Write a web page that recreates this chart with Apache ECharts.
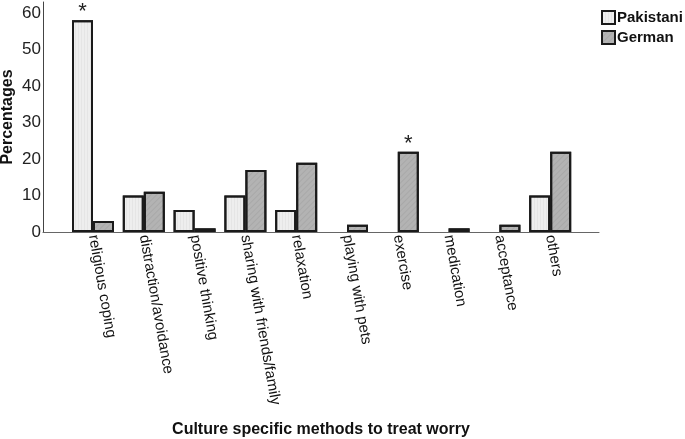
<!DOCTYPE html>
<html>
<head>
<meta charset="utf-8">
<script src="https://cdn.jsdelivr.net/npm/echarts@6/dist/echarts.min.js"></script>
<style>
html,body{margin:0;padding:0;background:#fff;}
#chart{width:685px;height:439px;}
</style>
</head>
<body>
<div id="chart"></div>
<script>
const categories = ['religious coping','distraction/avoidance','positive thinking','sharing with friends/family','relaxation','playing with pets','exercise','medication','acceptance','others'];
const pakistani = [58, 10, 6, 10, 6, 0, 0, 0, 0, 10];
const german = [3, 11, 1, 17, 19, 2, 22, 1, 2, 22];
const pakistaniSig = [true, false, false, false, false, false, false, false, false, false];
const germanSig = [false, false, false, false, false, false, true, false, false, false];
const yTicks = [0, 10, 20, 30, 40, 50, 60];
const yTitle = 'Percentages';
const xTitle = 'Culture specific methods to treat worry';

const FONT = 'Liberation Sans, Arial, sans-serif';
function mkData(vals, sig) {
  return vals.map((v, i) => {
    const item = {value: v};
    if (sig[i]) item.label = {show: true, formatter: '*'};
    if (v === 0) item.itemStyle = {borderWidth: 0};
    return item;
  });
}
const chart = echarts.init(document.getElementById('chart'));
const starLabel = {show: false, position: 'top', distance: -3, color: '#222', fontSize: 22, fontFamily: FONT};
chart.setOption({
  animation: false,
  backgroundColor: '#fff',
  textStyle: {fontFamily: FONT},
  grid: [
    {left: 43, right: 86, top: 2, bottom: 207, outerBoundsMode: 'none', containLabel: false},
    {left: 67.6, right: 109.4, top: 2, bottom: 207, outerBoundsMode: 'none', containLabel: false}
  ],
  graphic: [
    {type: 'text', x: 8, y: 117, rotation: Math.PI / 2,
     style: {text: yTitle, font: 'bold 16px ' + FONT, fill: '#111', align: 'center', verticalAlign: 'middle'}}
  ],
  legend: {
    orient: 'vertical', left: 601, top: 10, padding: 0, itemWidth: 13, itemHeight: 13, itemGap: 5,
    icon: 'rect',
    textStyle: {fontFamily: FONT, fontWeight: 'bold', fontSize: 15, color: '#111', padding: [0, 0, 0, -3]},
    data: [
      {name: 'Pakistani', itemStyle: {color: '#eeeeee', borderColor: '#1a1a1a', borderWidth: 2}},
      {name: 'German', itemStyle: {color: '#b3b3b3', borderColor: '#1a1a1a', borderWidth: 2}}
    ]
  },
  xAxis: [
    {type: 'value', gridIndex: 0, min: 0, max: 1, show: true,
     axisLine: {show: true, lineStyle: {color: '#666', width: 1}},
     axisTick: {show: false}, axisLabel: {show: false}, splitLine: {show: false},
     name: xTitle, nameLocation: 'middle', nameGap: 190,
     nameMoveOverlap: false,
     nameTextStyle: {fontFamily: FONT, fontWeight: 'bold', fontSize: 16, color: '#111'}},
    {type: 'category', gridIndex: 1, data: categories,
     axisLine: {show: false}, axisTick: {show: false},
     axisLabel: {rotate: -80, fontSize: 15, color: '#111', margin: 3, fontFamily: FONT, interval: 0}}
  ],
  yAxis: [
    {type: 'value', gridIndex: 0, min: 0, max: 63, interval: 10,
     axisLine: {show: true, lineStyle: {color: '#444', width: 1}},
     axisTick: {show: false}, splitLine: {show: false},
     axisLabel: {fontSize: 17, color: '#222', margin: 2, fontFamily: FONT,
       formatter: v => yTicks.includes(v) ? String(v) : ''}},
    {type: 'value', gridIndex: 1, min: 0, max: 63, show: false}
  ],
  series: [
    {name: 'Pakistani', type: 'bar', xAxisIndex: 1, yAxisIndex: 1, barWidth: 21, barGap: '0%',
     data: mkData(pakistani, pakistaniSig), label: starLabel,
     itemStyle: {color: '#eeeeee', borderColor: '#1a1a1a', borderWidth: 2,
       decal: {symbol: 'rect', dashArrayX: [[1, 2]], dashArrayY: [1, 0], color: 'rgba(0,0,0,0.04)'}}},
    {name: 'German', type: 'bar', xAxisIndex: 1, yAxisIndex: 1, barWidth: 21, barGap: '0%',
     data: mkData(german, germanSig), label: starLabel,
     itemStyle: {color: '#b3b3b3', borderColor: '#1a1a1a', borderWidth: 2,
       decal: {symbol: 'rect', rotation: -Math.PI / 4, dashArrayX: [1, 0], dashArrayY: [1, 3], color: 'rgba(0,0,0,0.06)'}}}
  ]
});
</script>
</body>
</html>
